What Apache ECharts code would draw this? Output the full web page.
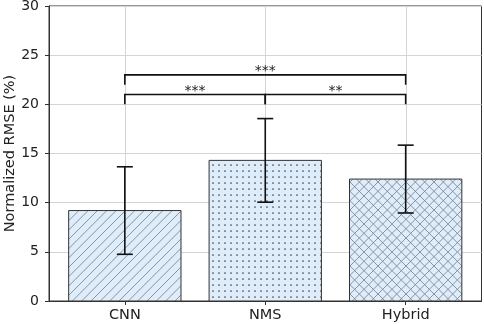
<!DOCTYPE html>
<html><head><meta charset="utf-8">
<script src="https://cdn.jsdelivr.net/npm/echarts@6/dist/echarts.min.js"></script>
<style>html,body{margin:0;padding:0;background:#fff}#c{width:484px;height:324px}</style>
</head><body><div id="c"></div>
<script>
const categories = ['CNN', 'NMS', 'Hybrid'];
const means = [9.2, 14.3, 12.4];
const errors = [4.45, 4.25, 3.45];
const yTicks = [0, 5, 10, 15, 20, 25, 30];
const bracketFrom = [0, 1, 0];
const bracketTo = [1, 2, 2];
const bracketY = [21, 21, 23];
const bracketLabel = ['***', '**', '***'];
const hatchKinds = ['diag', 'dots', 'cross'];

const FONT = 'DejaVu Sans';
const FILL = '#deedf9';
const HATCH = '#7c8a98';

function makePattern(kind) {
  const c = document.createElement('canvas');
  const s = kind === 'dots' ? 6 : 28;
  c.width = s; c.height = s;
  const g = c.getContext('2d');
  g.fillStyle = FILL; g.fillRect(0, 0, s, s);
  g.strokeStyle = HATCH; g.lineWidth = 0.9;
  if (kind === 'dots') {
    g.fillStyle = '#3e4852';
    g.beginPath(); g.arc(3, 3, 0.85, 0, Math.PI * 2); g.fill();
  } else {
    const step = s / 3;
    for (let k = -3; k <= 3; k++) {
      const x0 = k * step;
      g.beginPath(); g.moveTo(x0, s); g.lineTo(x0 + s, 0); g.stroke();
      if (kind === 'cross') {
        g.beginPath(); g.moveTo(x0, 0); g.lineTo(x0 + s, s); g.stroke();
      }
    }
  }
  return { image: c, repeat: 'repeat' };
}
const patterns = hatchKinds.map(makePattern);

const barData = categories.map((c, i) => [i, means[i]]);
const errData = categories.map((c, i) => [i, means[i], errors[i]]);
const brData = bracketY.map((y, i) => [bracketFrom[i], bracketTo[i], y, bracketLabel[i]]);
const gridData = categories.map((c, i) => [i]);

const chart = echarts.init(document.getElementById('c'), null, { renderer: 'canvas' });
chart.setOption({
  animation: false,
  grid: { left: 49, right: 2.5, top: 6, bottom: 23, outerBoundsMode: 'none', containLabel: false,
    show: true, borderColor: '#333', borderWidth: 1, backgroundColor: 'transparent' },
  xAxis: {
    type: 'value', min: -0.54, max: 2.54,
    axisLine: { show: true, onZero: false, lineStyle: { color: '#333', width: 1 } },
    axisTick: { show: true, customValues: [0, 1, 2], length: 4, lineStyle: { color: '#333' } },
    axisLabel: { customValues: [0, 1, 2], formatter: v => categories[Math.round(v)], fontFamily: FONT, fontSize: 14.5, color: '#222', margin: 7 },
    splitLine: { show: false }
  },
  yAxis: {
    type: 'value', min: yTicks[0], max: yTicks[yTicks.length - 1], interval: 5,
    name: 'Normalized RMSE (%)', nameLocation: 'middle', nameGap: 31, nameRotate: 90, nameMoveOverlap: false,
    nameTextStyle: { fontFamily: FONT, fontSize: 14.5, color: '#222' },
    axisLine: { show: true, onZero: false, lineStyle: { color: '#333', width: 1 } },
    axisTick: { show: true, length: 4, inside: false, lineStyle: { color: '#333' } },
    axisLabel: { fontFamily: FONT, fontSize: 14, color: '#222', margin: 10 },
    splitLine: { show: true, lineStyle: { color: '#d4d4d4', width: 1 } }
  },
  series: [
    {
      type: 'custom', data: gridData, silent: true,
      renderItem: (p, api) => {
        const a = api.coord([api.value(0), 0]), b = api.coord([api.value(0), 30]);
        const x = Math.round(a[0]) + 0.5;
        return { type: 'line', shape: { x1: x, y1: a[1], x2: x, y2: b[1] }, style: { stroke: '#d4d4d4', lineWidth: 1 } };
      }
    },
    {
      type: 'custom', data: barData, silent: true,
      renderItem: (p, api) => {
        const x = api.value(0), y = api.value(1);
        const p1 = api.coord([x - 0.4, y]), p2 = api.coord([x + 0.4, 0]);
        return { type: 'rect', shape: { x: p1[0], y: p1[1], width: p2[0] - p1[0], height: p2[1] - p1[1] },
          style: { fill: patterns[p.dataIndex], stroke: '#333', lineWidth: 1 } };
      }
    },
    {
      type: 'custom', data: errData, silent: true,
      renderItem: (p, api) => {
        const x = api.value(0), m = api.value(1), e = api.value(2);
        const t = api.coord([x, m + e]), b = api.coord([x, m - e]);
        const cap = 8, st = { stroke: '#111', lineWidth: 1.6 };
        return { type: 'group', children: [
          { type: 'line', shape: { x1: t[0], y1: t[1], x2: b[0], y2: b[1] }, style: st },
          { type: 'line', shape: { x1: t[0] - cap, y1: t[1], x2: t[0] + cap, y2: t[1] }, style: st },
          { type: 'line', shape: { x1: b[0] - cap, y1: b[1], x2: b[0] + cap, y2: b[1] }, style: st }
        ] };
      }
    },
    {
      type: 'custom', data: brData, silent: true,
      dimensions: ['from', 'to', 'y', 'label'],
      renderItem: (p, api) => {
        const f = api.value(0), t = api.value(1), y = api.value(2);
        const lab = brData[p.dataIndex][3];
        const a = api.coord([f, y - 1]), b = api.coord([f, y]), c = api.coord([t, y]), d = api.coord([t, y - 1]);
        return { type: 'group', children: [
          { type: 'polyline', shape: { points: [a, b, c, d] }, style: { stroke: '#111', lineWidth: 1.6, fill: null } },
          { type: 'text', x: (b[0] + c[0]) / 2, y: b[1] + 4,
            style: { text: lab, fontFamily: FONT, fontSize: 14, fill: '#222', align: 'center', verticalAlign: 'bottom' } }
        ] };
      }
    }
  ]
});
</script>
</body></html>
